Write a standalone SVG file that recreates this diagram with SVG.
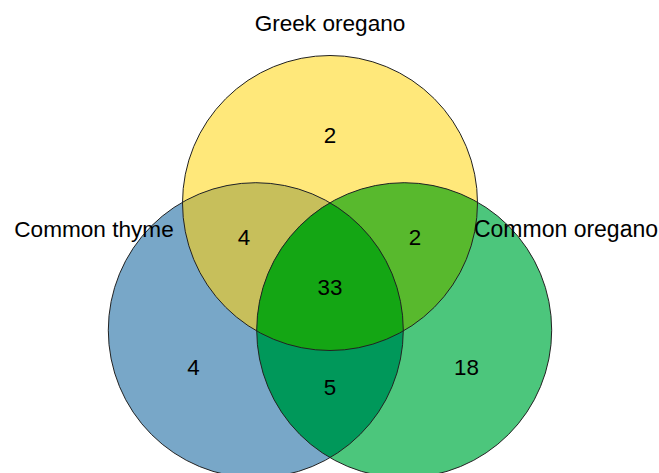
<svg xmlns="http://www.w3.org/2000/svg" width="659" height="473" viewBox="0 0 659 473">
  <style>
    text { font-family: "Liberation Sans", Arial, sans-serif; fill: #000; text-anchor: middle; }
    .count { font-size: 22.4px; }
    .label { font-size: 22.6px; }
    .outline { fill: none; stroke: #222; stroke-width: 1; }
  </style>
  <defs>
    <clipPath id="clipA"><circle cx="330" cy="203" r="147.5"/></clipPath>
    <clipPath id="clipB"><circle cx="255.8" cy="330.2" r="147.5"/></clipPath>
  </defs>
  <rect width="659" height="473" fill="#fff"/>
  <g id="regions">
    <circle id="fillA" cx="330" cy="203" r="147.5" fill="#FFE87A"/>
    <circle id="fillB" cx="255.8" cy="330.2" r="147.5" fill="#78A7C8"/>
    <circle id="fillC" cx="404.2" cy="330.2" r="147.5" fill="#4CC67C"/>
    <circle id="fillAB" cx="255.8" cy="330.2" r="147.5" fill="#C7BF5B" clip-path="url(#clipA)"/>
    <circle id="fillAC" cx="404.2" cy="330.2" r="147.5" fill="#58B92D" clip-path="url(#clipA)"/>
    <circle id="fillBC" cx="404.2" cy="330.2" r="147.5" fill="#00985A" clip-path="url(#clipB)"/>
    <g clip-path="url(#clipB)">
      <circle id="fillABC" cx="404.2" cy="330.2" r="147.5" fill="#14A614" clip-path="url(#clipA)"/>
    </g>
  </g>
  <g id="greek-oregano">
    <circle class="outline" cx="330" cy="203" r="147.5"/>
    <text class="label" x="330" y="30.5">Greek oregano</text>
  </g>
  <g id="common-thyme">
    <circle class="outline" cx="255.8" cy="330.2" r="147.5"/>
    <text class="label" x="94" y="236.7">Common thyme</text>
  </g>
  <g id="common-oregano">
    <circle class="outline" cx="404.2" cy="330.2" r="147.5"/>
    <text class="label" x="566" y="236.7" style="font-size:23px">Common oregano</text>
  </g>
  <g id="counts">
    <text class="count" x="330" y="143">2</text>
    <text class="count" x="244" y="245">4</text>
    <text class="count" x="415" y="245">2</text>
    <text class="count" x="330" y="295">33</text>
    <text class="count" x="193.5" y="375">4</text>
    <text class="count" x="330" y="395">5</text>
    <text class="count" x="466.5" y="374.5">18</text>
  </g>
</svg>
